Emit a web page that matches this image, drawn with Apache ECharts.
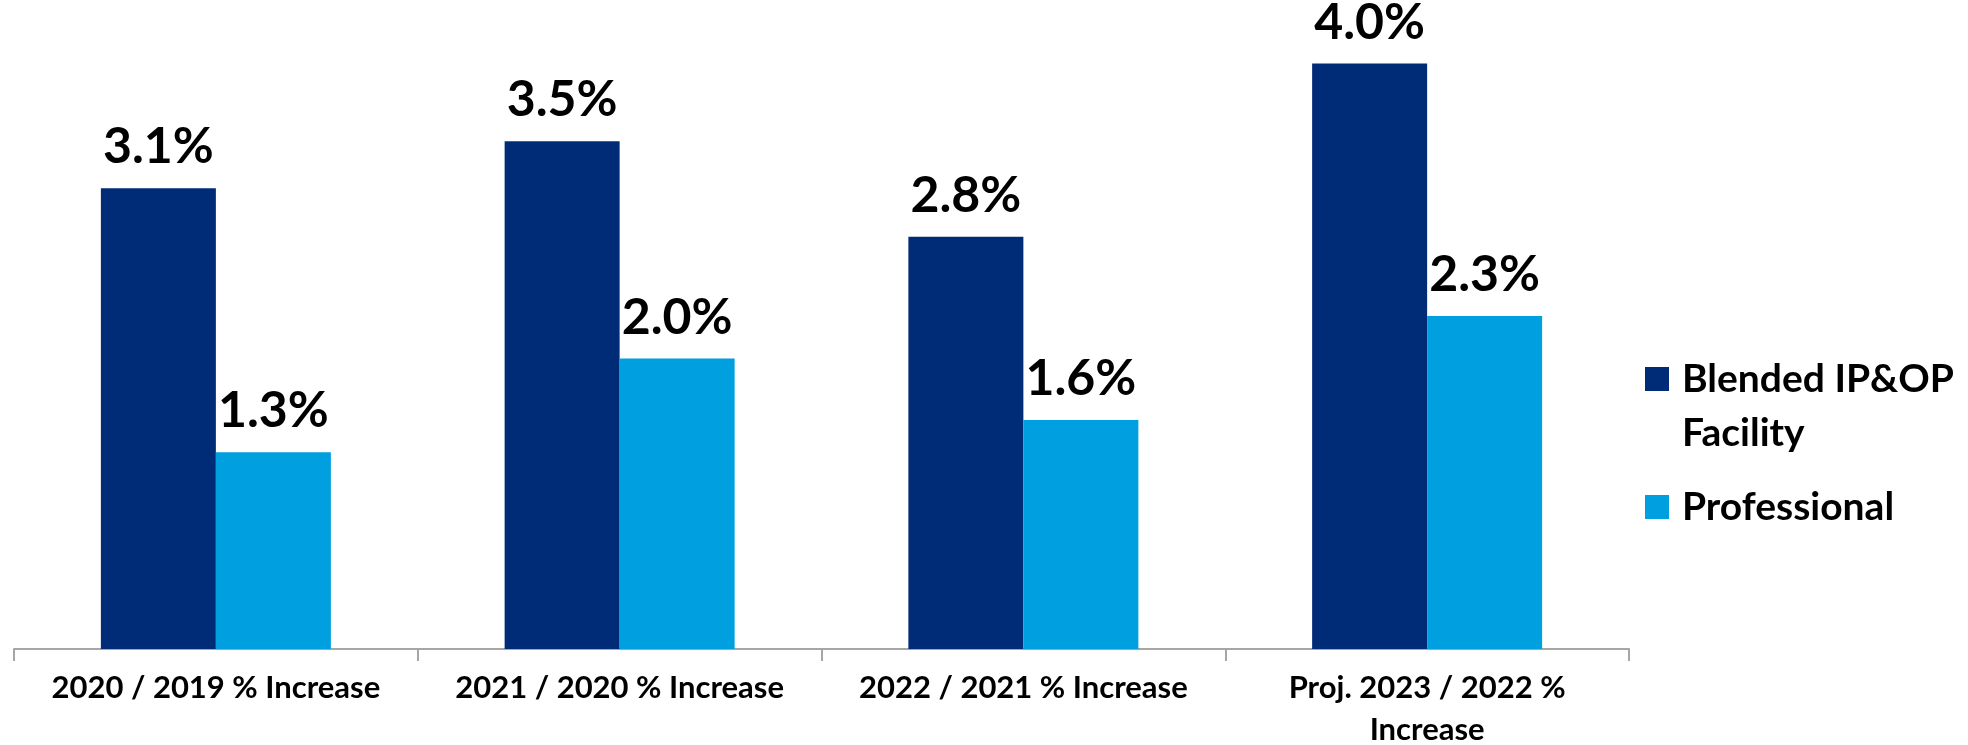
<!DOCTYPE html>
<html>
<head>
<meta charset="utf-8">
<script src="https://cdn.jsdelivr.net/npm/echarts@6/dist/echarts.min.js"></script>
<style>
html,body{margin:0;padding:0;background:#fff;}
#chart{width:1968px;height:745px;}
</style>
</head>
<body>
<div id="chart"></div>
<script>
const categories = ["2020 / 2019 % Increase", "2021 / 2020 % Increase", "2022 / 2021 % Increase", "Proj. 2023 / 2022 %\nIncrease"];
const seriesNames = ["Blended IP&OP Facility", "Professional"];
const facility = [3.14, 3.46, 2.81, 3.99];
const professional = [1.34, 1.98, 1.56, 2.27];

const FONT = 'Lato';
const chart = echarts.init(document.getElementById('chart'), null, {renderer: 'canvas'});
const labelCfg = {
  show: true, position: 'top', distance: 16,
  formatter: p => p.value.toFixed(1) + '%',
  color: '#000', fontFamily: FONT, fontWeight: 'bold', fontSize: 50
};
const LH = 54;
const legendRich = {t: {fontFamily: FONT, fontWeight: 'bold', fontSize: 39, lineHeight: LH, color: '#000'}};
chart.setOption({
  animation: false,
  backgroundColor: '#fff',
  grid: {left: 14, right: 339, top: 62, bottom: 96, containLabel: false, outerBoundsMode: 'none'},
  legend: {
    orient: 'vertical', left: 1645, top: 298, padding: 0,
    itemWidth: 24, itemHeight: 24, itemGap: 20,
    icon: 'rect',
    formatter: n => n === seriesNames[0] ? '{t|Blended IP&OP}\n{t|Facility}' : '{t|' + n + '}',
    textStyle: {fontFamily: FONT, fontWeight: 'bold', fontSize: 39, lineHeight: LH, color: '#000', padding: [0,0,0,8], rich: legendRich},
    data: [
      {name: seriesNames[0], textStyle: {padding: [LH,0,0,8], rich: legendRich, lineHeight: LH, fontSize: 39, fontWeight: 'bold', fontFamily: FONT}},
      {name: seriesNames[1]}
    ]
  },
  xAxis: {
    type: 'category', data: categories,
    axisLine: {show: true, lineStyle: {color: '#a6a6a6', width: 2}},
    axisTick: {show: true, length: 12, lineStyle: {color: '#a6a6a6', width: 2}},
    axisLabel: {margin: 18, color: '#000', fontFamily: FONT, fontWeight: 'bold', fontSize: 31, lineHeight: 42, interval: 0}
  },
  yAxis: {type: 'value', min: 0, max: 4, show: false, splitLine: {show: false}},
  series: [
    {name: seriesNames[0], type: 'bar', data: facility, barWidth: 115, barGap: '0%',
     itemStyle: {color: '#002C77'}, label: labelCfg},
    {name: seriesNames[1], type: 'bar', data: professional, barWidth: 115, barGap: '0%',
     itemStyle: {color: '#009FDF'}, label: labelCfg}
  ]
});
</script>
</body>
</html>
